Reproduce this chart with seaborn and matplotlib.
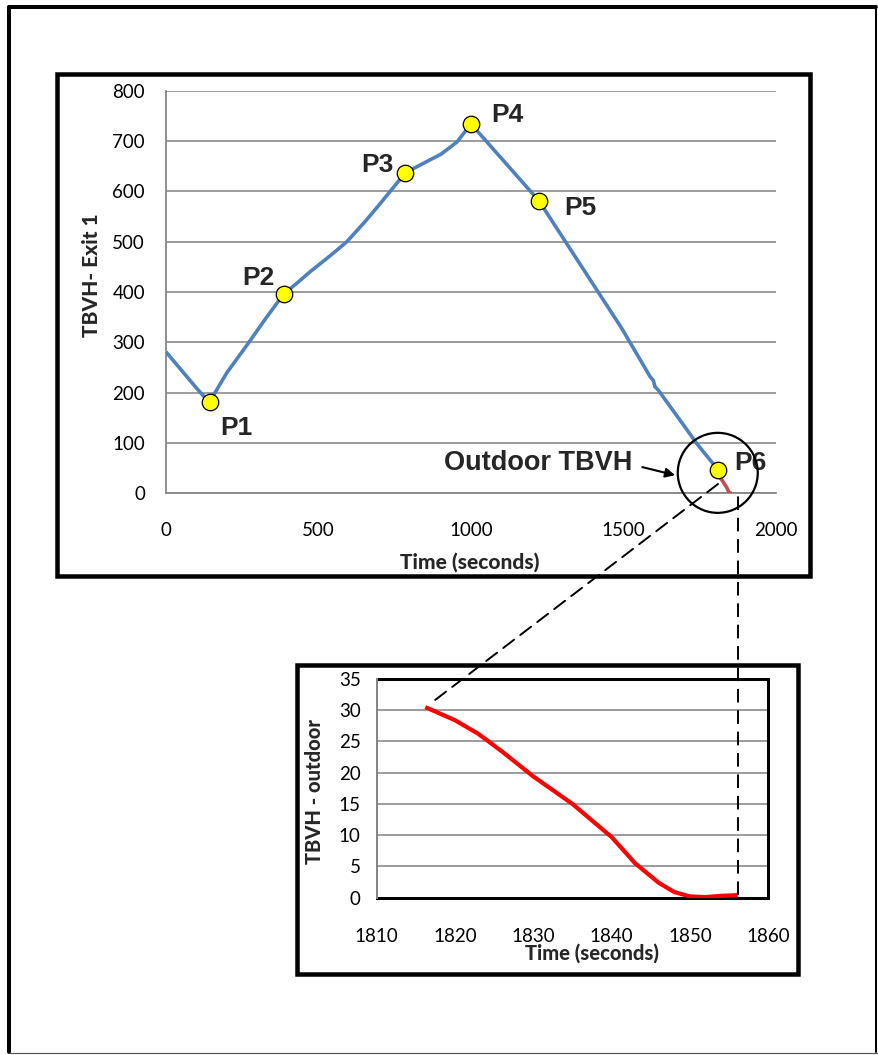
import numpy as np
import pandas as pd
import matplotlib
matplotlib.use("Agg")
import matplotlib.pyplot as plt
import seaborn as sns
from matplotlib.patches import Rectangle, Circle, ConnectionPatch
from matplotlib.lines import Line2D
from matplotlib.transforms import IdentityTransform

# ---------------- data ----------------
exit_time = [0, 50, 100, 128, 143, 200, 266, 330, 386, 430, 472, 530, 560, 593, 620, 650,
             700, 735, 785, 845, 902, 954, 1000, 1223, 1494, 1587, 1598,
             1603, 1614, 1700, 1740, 1811]
exit_tbvh = [281, 245, 209, 190, 182, 240, 295, 350, 396, 418, 440, 468, 483, 500, 518, 538,
             574, 600, 637, 656, 674, 698, 734, 581, 328, 232, 224,
             212, 205, 133, 99, 46]

point_labels = ["P1", "P2", "P3", "P4", "P5", "P6"]
point_time = [143, 386, 785, 1000, 1223, 1811]
point_tbvh = [182, 396, 637, 734, 581, 46]

outdoor_time = [1816.2, 1820, 1823, 1826, 1830, 1835, 1840, 1843, 1846, 1848,
                1850, 1852, 1854, 1856.1]
outdoor_tbvh = [30.5, 28.4, 26.2, 23.4, 19.4, 15.0, 9.7, 5.5, 2.4, 0.9,
                0.2, 0.1, 0.3, 0.4]

top_xticks = [0, 500, 1000, 1500, 2000]
top_yticks = [0, 100, 200, 300, 400, 500, 600, 700, 800]
bot_xticks = [1810, 1820, 1830, 1840, 1850, 1860]
bot_yticks = [0, 5, 10, 15, 20, 25, 30, 35]

exit_df = pd.DataFrame({"time": exit_time, "tbvh": exit_tbvh})
pts_df = pd.DataFrame({"time": point_time, "tbvh": point_tbvh, "label": point_labels})
out_df = pd.DataFrame({"time": outdoor_time, "tbvh": outdoor_tbvh})

# ---------------- style ----------------
sns.set_style("white")
plt.rcParams["font.family"] = ["Lato", "DejaVu Sans"]
W, H = 879, 1055
PX = 0.72  # points per pixel at dpi 100
GRID = "#868686"
BOLD_ARIAL = ["Liberation Sans", "DejaVu Sans"]
LINE_KW = dict(solid_joinstyle="round", solid_capstyle="butt")

fig = plt.figure(figsize=(W / 100, H / 100), dpi=100)


def rect(l, t, r, b):
    return [l / W, 1 - b / H, (r - l) / W, (b - t) / H]


def frame(l, t, r, b, lw):
    fig.add_artist(Rectangle((l / W, 1 - b / H), (r - l) / W, (b - t) / H,
                             transform=fig.transFigure, fill=False,
                             edgecolor="black", linewidth=lw * PX, zorder=0))


# outer frame
fig.add_artist(Line2D([9 / W, 9 / W], [1 - 1052 / H, 1 - 7 / H], transform=fig.transFigure,
                      color="black", lw=4 * PX))
fig.add_artist(Line2D([9 / W, 876 / W], [1 - 7 / H, 1 - 7 / H], transform=fig.transFigure,
                      color="black", lw=4 * PX))
fig.add_artist(Line2D([9 / W, 879 / W], [1 - 1052.5 / H, 1 - 1052.5 / H], transform=fig.transFigure,
                      color="#555555", lw=1.2 * PX))
fig.add_artist(Line2D([876 / W, 876 / W], [1 - 1052 / H, 1 - 7 / H], transform=fig.transFigure,
                      color="black", lw=2 * PX))
# chart boxes
frame(57, 74, 810, 575.5, 4.5)
frame(297.5, 664.5, 798, 974, 4.5)

# ---------------- top chart ----------------
ax1 = fig.add_axes(rect(166, 90.7, 776, 493.3))
ax1.set_facecolor("none")
sns.lineplot(data=exit_df, x="time", y="tbvh", ax=ax1, color="#4F81BD",
             linewidth=3.6 * PX, sort=False, estimator=None, zorder=3, **LINE_KW)
sns.lineplot(data=out_df, x="time", y="tbvh", ax=ax1, color="#C0504D",
             linewidth=3.6 * PX, sort=False, estimator=None, zorder=3, **LINE_KW)
sns.scatterplot(data=pts_df, x="time", y="tbvh", ax=ax1, color="#FFFF00",
                edgecolor="black", linewidth=0.9, s=(16.5 * PX) ** 2, zorder=5)
ax1.set_xlim(0, 2000)
ax1.set_ylim(0, 800)
ax1.set_xticks(top_xticks)
ax1.set_yticks(top_yticks)
ax1.yaxis.grid(True, color=GRID, linewidth=1.6 * PX)
ax1.xaxis.grid(False)
for s in ["top", "right"]:
    ax1.spines[s].set_visible(False)
for s in ["left", "bottom"]:
    ax1.spines[s].set_color(GRID)
    ax1.spines[s].set_linewidth(1.8 * PX)
ax1.tick_params(axis="y", direction="out", length=9 * PX, width=1.6 * PX, color=GRID,
                pad=12 * PX, labelsize=13.5, labelcolor="black")
ax1.tick_params(axis="x", direction="out", length=8 * PX, width=1.6 * PX, color=GRID,
                pad=21 * PX, labelsize=13.5, labelcolor="black")
ax1.set_xlabel("")
ax1.set_ylabel("")
ax1.text((470 - 166) / 610, (493.3 - 561.7) / 402.6, "Time (seconds)", transform=ax1.transAxes,
         ha="center", va="center", fontsize=15, fontweight="black")
ax1.text((91.7 - 166) / 610, (493.3 - 275) / 402.6, "TBVH- Exit 1", transform=ax1.transAxes,
         ha="center", va="center", rotation=90, fontsize=15, fontweight="black")

label_offsets = [(27, -26), (-25, 16), (-28, 8), (36, 9), (41, -7), (32, 7)]
for lab, x, y, (dx, dy) in zip(point_labels, point_time, point_tbvh, label_offsets):
    ax1.annotate(lab, (x, y), xytext=(dx * PX, dy * PX), textcoords="offset points",
                 ha="center", va="center", fontsize=19, fontweight="bold",
                 family=BOLD_ARIAL, zorder=6)

# outdoor label + arrow
ax1.text(1528, 60, "Outdoor TBVH", ha="right", va="center", fontsize=19.5,
         fontweight="bold", family=BOLD_ARIAL)
ax1.annotate("", xy=(1669, 36), xytext=(1562, 52),
             arrowprops=dict(arrowstyle="-|>", color="black", lw=1.5, mutation_scale=14,
                             shrinkA=0, shrinkB=0))

# ---------------- bottom chart ----------------
ax2 = fig.add_axes(rect(376.7, 679, 768.3, 897.7))
ax2.set_facecolor("none")
sns.lineplot(data=out_df, x="time", y="tbvh", ax=ax2, color="#FF0000",
             linewidth=4.2 * PX, sort=False, estimator=None, zorder=3, **LINE_KW)
ax2.set_xlim(1810, 1860)
ax2.set_ylim(0, 35)
ax2.set_xticks(bot_xticks)
ax2.set_yticks(bot_yticks)
ax2.yaxis.grid(True, color=GRID, linewidth=1.6 * PX)
ax2.xaxis.grid(False)
for s in ["top", "right", "bottom"]:
    ax2.spines[s].set_color("black")
    ax2.spines[s].set_linewidth(3 * PX)
ax2.spines["left"].set_color(GRID)
ax2.spines["left"].set_linewidth(2 * PX)
ax2.spines["left"].set_zorder(4)
ax2.tick_params(axis="y", direction="out", length=6 * PX, width=1.6 * PX, color=GRID,
                pad=10 * PX, labelsize=13.5, labelcolor="black")
ax2.tick_params(axis="x", direction="out", length=9 * PX, width=1.6 * PX, color=GRID,
                pad=21 * PX, labelsize=13.5, labelcolor="black")
ax2.set_xlabel("")
ax2.set_ylabel("")
ax2.text((592 - 376.7) / 391.6, (897.7 - 953) / 218.7, "Time (seconds)", transform=ax2.transAxes,
         ha="center", va="center", fontsize=14.5, fontweight="black")
ax2.text((314.7 - 376.7) / 391.6, (897.7 - 792) / 218.7, "TBVH - outdoor", transform=ax2.transAxes,
         ha="center", va="center", rotation=90, fontsize=14.5, fontweight="black")

# ---------------- zoom annotations ----------------
cx, cy = ax1.transData.transform((point_time[-1], point_tbvh[-1]))
fig.add_artist(Circle((cx - 0.6, cy - 2.7), radius=40, transform=IdentityTransform(),
                      fill=False, edgecolor="black", linewidth=1.6, zorder=7))

dash = (0, (7, 4))
con = ConnectionPatch(xyA=(1810, 18.5), coordsA=ax1.transData,
                      xyB=(1817.0, 31.2), coordsB=ax2.transData,
                      color="black", linewidth=1.4, linestyle=dash, zorder=8)
fig.add_artist(con)

bx, by = ax2.transData.transform((outdoor_time[-1], outdoor_tbvh[-1]))
_, ty = ax1.transData.transform((0, 0))
fig.add_artist(Line2D([bx, bx], [by, ty], transform=IdentityTransform(), color="black",
                      linewidth=1.4, linestyle=dash, zorder=8))

fig.savefig("out.png", dpi=100, facecolor="white")
